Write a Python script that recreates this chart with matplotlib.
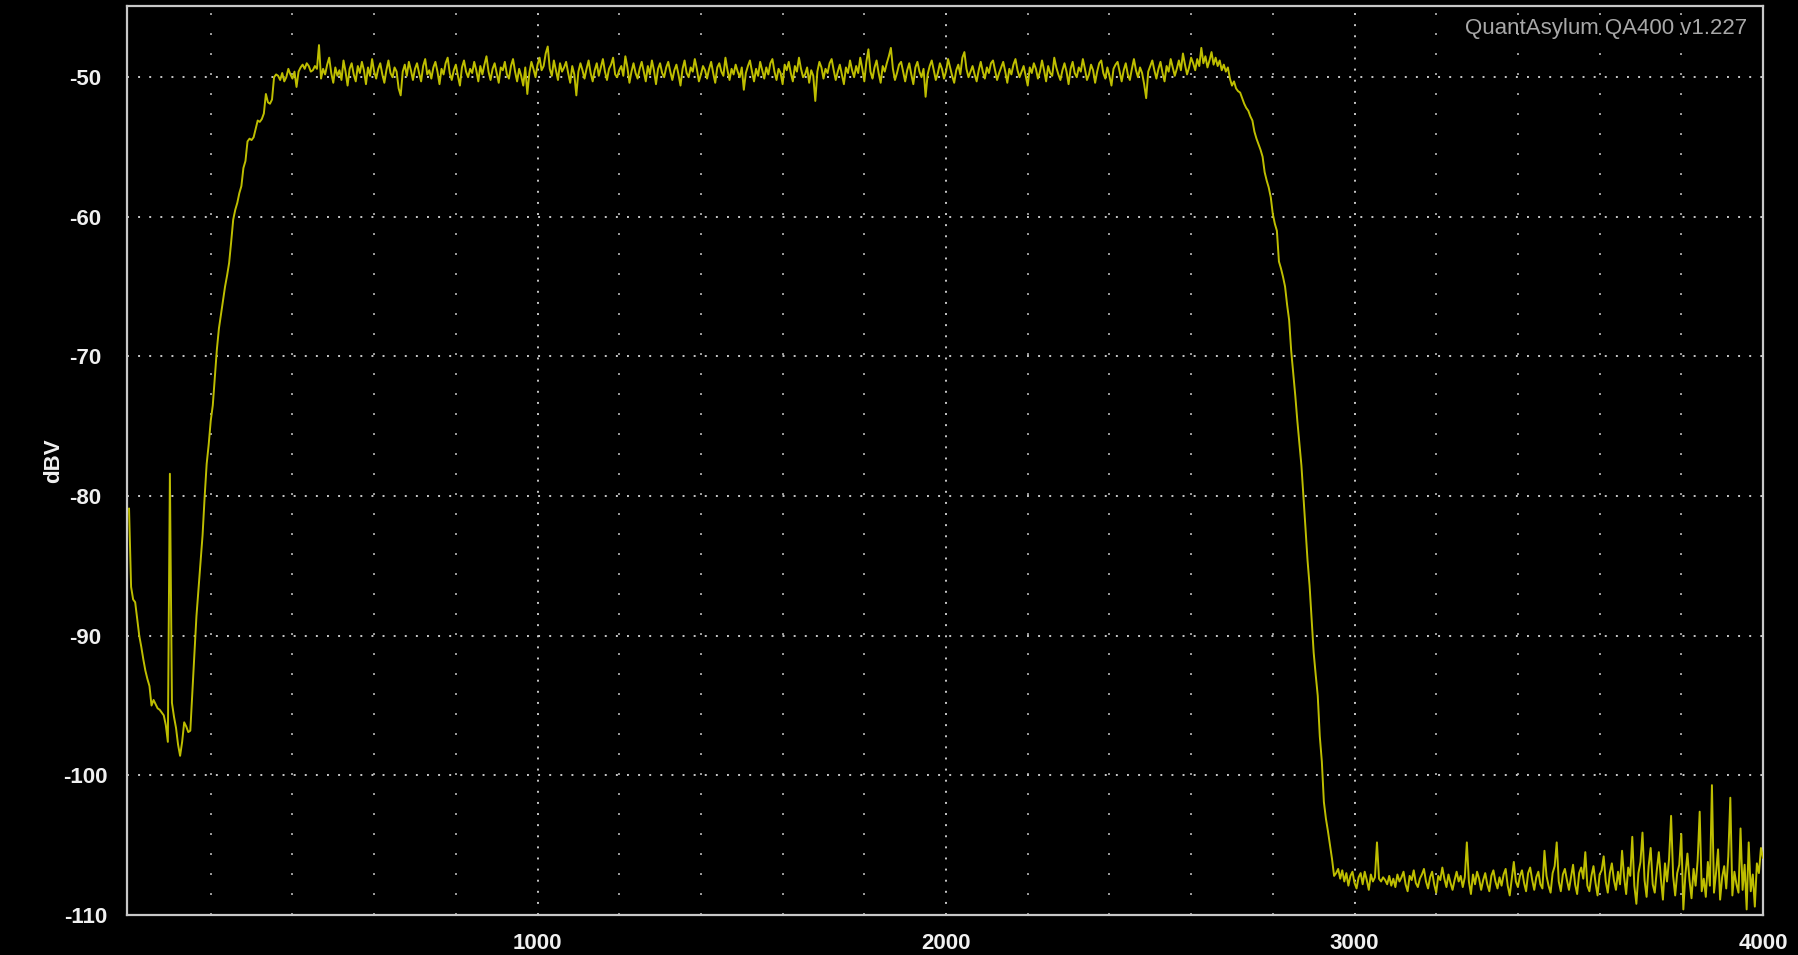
import numpy as np
import matplotlib.pyplot as plt

plt.rcParams['font.family'] = ['Liberation Sans', 'DejaVu Sans']
plt.rcParams['lines.scale_dashes'] = False
plt.rcParams['axes.unicode_minus'] = False

# analyser bins, 5 Hz apart, 0..4000 Hz
freq_step = 5
freq = np.arange(0, 4000 + freq_step, freq_step)

# dBV, segment by segment
low_end = [  # 0 - 200 Hz
    -80.9, -86.5, -87.4, -87.6, -88.8, -90.0, -90.8, -91.7, -92.5, -93.1,
    -93.6, -95.0, -94.6, -94.9, -95.2, -95.3, -95.5, -95.7, -96.4, -97.6,
    -78.4, -94.8, -95.8, -96.6, -97.8, -98.6, -97.6, -96.2, -96.5, -96.9,
    -96.8, -94.0, -91.3, -88.6, -86.7, -84.9, -82.8, -80.1, -77.7, -76.3,
    -74.6]
rise = [  # 205 - 360 Hz
    -73.5, -71.5, -69.5, -68.0, -67.0, -66.0, -65.0, -64.2, -63.3, -61.8,
    -60.2, -59.5, -59.0, -58.3, -57.8, -56.5, -56.0, -54.6, -54.4, -54.5,
    -54.3, -53.7, -53.1, -53.2, -53.0, -52.6, -51.2, -51.8, -51.9, -51.6,
    -50.0, -49.8]
pass_band = [  # 365 - 2695 Hz
    -49.9, -50.2, -49.7, -50.3, -50.0, -49.4, -49.8, -50.1, -49.6, -50.7,
    -49.6, -49.3, -49.1, -49.4, -49.0, -49.2, -49.6, -49.5, -49.2, -49.4,
    -47.7, -50.1, -49.4, -49.8, -49.1, -48.6, -49.7, -50.4, -49.3, -49.9,
    -49.5, -50.2, -48.8, -49.6, -50.6, -49.4, -49.0, -49.8, -50.3, -49.2,
    -49.7, -48.9, -49.5, -50.5, -49.3, -49.9, -48.7, -49.6, -50.1, -49.4,
    -49.0, -49.8, -50.4, -49.5, -48.8, -49.7, -50.0, -49.3, -49.6, -50.8,
    -51.3, -49.6, -49.1, -49.9, -48.9, -49.5, -50.2, -49.4, -49.0, -49.7,
    -50.3, -49.2, -48.7, -49.8, -49.5, -50.1, -49.3, -48.9, -49.6, -50.5,
    -49.4, -49.8, -49.0, -48.6, -49.7, -50.2, -49.5, -49.1, -49.9, -50.6,
    -49.3, -48.8, -49.6, -50.0, -49.4, -49.7, -48.9, -49.5, -50.3, -49.2,
    -49.8, -49.1, -48.5, -49.6, -50.2, -49.4, -49.0, -49.7, -50.4, -49.3,
    -49.5, -48.9, -49.8, -50.1, -49.2, -48.7, -49.6, -50.3, -49.4, -49.9,
    -50.6, -49.3, -51.2, -49.7, -48.9, -49.4, -50.0, -49.1, -48.6, -49.5,
    -49.2, -48.3, -47.8, -49.4, -49.9, -48.8, -49.5, -50.2, -49.0, -49.6,
    -49.3, -48.9, -49.7, -50.4, -49.2, -49.8, -51.3, -49.6, -49.0, -49.5,
    -50.1, -49.4, -48.8, -49.7, -50.3, -49.5, -49.0, -49.9, -49.3, -48.7,
    -49.6, -50.2, -49.4, -49.1, -48.6, -49.8, -50.0, -49.5, -49.2, -49.9,
    -48.5, -49.3, -50.4, -49.6, -49.0, -49.7, -50.1, -49.4, -48.9, -49.6,
    -50.3, -49.2, -49.8, -48.8, -49.5, -50.5, -49.4, -49.0, -49.7, -50.0,
    -49.3, -48.9, -49.6, -50.2, -49.5, -49.1, -49.8, -50.6, -49.4, -48.8,
    -49.7, -50.0, -49.3, -49.6, -48.7, -49.4, -50.3, -49.8, -49.2, -49.5,
    -50.1, -49.4, -48.9, -49.7, -50.4, -49.3, -49.0, -49.6, -49.9, -48.6,
    -49.5, -50.2, -49.4, -49.8, -49.1, -49.6, -50.0, -49.3, -50.9, -49.7,
    -49.2, -48.8, -49.6, -50.3, -49.4, -49.9, -48.9, -49.5, -50.1, -49.3,
    -49.8, -49.0, -48.7, -49.6, -50.2, -49.4, -49.7, -50.5, -49.1, -49.5,
    -48.9, -49.7, -50.3, -49.2, -49.6, -48.6, -49.4, -50.0, -49.8, -49.3,
    -50.4, -49.5, -49.9, -51.7, -49.6, -48.9, -49.3, -50.1, -49.4, -49.7,
    -49.0, -48.7, -49.5, -50.2, -49.6, -49.1, -49.8, -50.5, -49.3, -49.7,
    -48.8, -49.5, -50.0, -49.2, -49.7, -48.6, -49.4, -50.3, -48.9, -48.0,
    -49.6, -50.1, -49.3, -48.8, -49.7, -50.4, -49.2, -49.6, -49.0, -48.5,
    -47.9, -49.4, -50.2, -49.7, -49.1, -48.9, -49.6, -50.3, -49.5, -49.0,
    -49.8, -50.5, -49.3, -48.9, -49.6, -50.0, -49.4, -51.4, -49.8, -49.2,
    -48.8, -49.5, -50.2, -49.7, -49.0, -49.4, -50.1, -49.6, -48.7, -49.3,
    -49.9, -50.4, -49.5, -49.1, -49.8, -48.6, -48.2, -49.4, -50.0, -49.6,
    -49.2, -49.8, -50.3, -49.5, -48.9, -49.6, -50.1, -49.3, -49.7, -49.0,
    -48.8, -49.5, -50.2, -49.7, -49.3, -48.9, -49.6, -50.4, -49.4, -49.8,
    -49.1, -48.7, -49.5, -50.0, -49.6, -49.2, -49.9, -50.6, -49.3, -49.7,
    -49.0, -49.4, -50.1, -49.6, -48.8, -49.5, -50.3, -49.2, -49.7, -49.9,
    -48.6, -49.3, -49.8, -50.2, -49.5, -49.0, -49.6, -50.5, -49.4, -48.9,
    -49.7, -50.0, -49.3, -49.6, -48.7, -49.4, -50.2, -49.8, -49.1, -49.5,
    -50.4, -49.6, -49.0, -48.8, -49.7, -50.1, -49.3, -49.9, -50.6, -49.4,
    -49.1, -48.9, -49.6, -50.3, -49.5, -49.0, -49.8, -50.2, -49.4, -48.7,
    -49.5, -50.0, -49.3, -49.7, -50.5, -51.5, -49.6, -49.2, -48.8, -49.5,
    -50.1, -49.4, -48.9, -49.7, -50.3, -49.2, -49.6, -48.7, -49.3, -49.9,
    -49.4, -48.8, -49.5, -48.3, -49.1, -49.8, -49.3, -48.6, -49.0, -49.5,
    -48.7, -49.2, -47.9, -49.0, -48.5, -49.3, -48.8, -48.2, -49.1, -48.6,
    -49.2, -48.8, -49.5, -49.1, -49.6, -49.3, -50.1]
roll_off = [  # 2700 - 2960 Hz
    -50.6, -50.3, -50.8, -51.0, -51.1, -51.5, -51.9, -52.2, -52.4, -52.8,
    -53.1, -53.9, -54.4, -54.8, -55.2, -55.7, -56.8, -57.4, -57.9, -58.6,
    -59.8, -60.5, -61.0, -63.2, -63.7, -64.3, -65.0, -66.3, -67.4, -69.6,
    -71.2, -72.8, -74.6, -76.2, -77.8, -80.0, -82.3, -84.6, -86.4, -88.8,
    -91.2, -92.8, -94.3, -97.2, -99.0, -101.9, -103.1, -104.0, -105.0, -106.0,
    -107.2, -107.0, -106.7]
noise_floor = [  # 2965 - 4000 Hz
    -107.4, -106.8, -107.6, -107.0, -107.9, -107.2, -106.9, -107.7, -108.1, -107.3,
    -107.0, -107.8, -106.9, -107.5, -108.2, -107.1, -107.6, -107.3, -104.8, -107.4,
    -107.6, -107.3, -107.5, -107.8, -107.2, -107.9, -107.4, -108.0, -107.1, -107.6,
    -107.3, -106.9, -107.8, -108.3, -107.2, -107.5, -106.8, -107.7, -108.0, -107.4,
    -107.1, -106.7, -107.6, -108.1, -107.3, -106.9, -107.8, -108.4, -107.2, -107.5,
    -106.6, -107.4, -108.0, -107.1, -107.7, -108.2, -107.5, -106.9, -107.6, -107.2,
    -108.0, -107.3, -104.8, -107.6, -108.5, -107.1, -107.8, -106.9, -107.4, -108.2,
    -107.5, -107.0, -107.8, -108.3, -107.2, -106.8, -107.6, -108.1, -107.3, -107.9,
    -107.1, -106.7, -107.9, -108.6, -107.4, -106.2, -107.6, -108.0, -107.2, -106.8,
    -107.7, -108.3, -107.0, -106.6, -107.5, -108.2, -107.3, -106.9, -107.8, -108.1,
    -105.4, -107.2, -107.9, -108.4, -107.0, -106.5, -104.8, -107.6, -108.3, -107.1,
    -106.7, -107.5, -108.2, -107.3, -106.4, -107.8, -108.5, -107.0, -106.6, -107.4,
    -105.5, -107.9, -108.3, -107.2, -106.5, -107.7, -108.6, -107.1, -106.8, -105.8,
    -107.6, -108.4, -107.0, -106.3, -107.5, -108.2, -106.9, -107.8, -105.4, -107.3,
    -108.5, -106.6, -107.2, -104.4, -107.9, -109.2, -107.0, -106.2, -104.1, -107.5,
    -108.7, -106.5, -105.2, -107.8, -108.4, -106.8, -105.5, -107.4, -108.9, -106.3,
    -107.6, -106.0, -102.9, -107.2, -108.6, -107.0, -106.4, -104.2, -109.6, -107.1,
    -105.6, -107.5, -108.8, -106.7, -107.9, -106.1, -102.6, -108.3, -107.4, -108.7,
    -106.2, -107.9, -100.7, -108.4, -107.0, -105.3, -108.9, -107.3, -106.5, -108.1,
    -105.8, -101.6, -108.6, -106.9, -107.8, -108.4, -103.8, -108.2, -106.4, -109.6,
    -104.8, -108.3, -107.1, -109.4, -106.3, -107.0, -105.2, -105.9]

level = np.concatenate([low_end, rise, pass_band, roll_off, noise_floor])

x_labels = [1000, 2000, 3000, 4000]
y_ticks = [-50, -60, -70, -80, -90, -100, -110]

fig = plt.figure(figsize=(17.98, 9.55), dpi=100, facecolor='black')
ax = fig.add_axes([127 / 1798, 1 - 915 / 955, 1636 / 1798, 909 / 955])
ax.set_facecolor('black')

ax.plot(freq, level, color='#bebe00', linewidth=1.4, zorder=3)

ax.set_xlim(-5, 4000)
ax.set_ylim(-110, -44.9)

ax.set_xticks(x_labels)
ax.set_xticks(np.arange(200, 4000, 200), minor=True)
ax.set_yticks(y_ticks)

# dotted scope-style graticule
ax.grid(True, which='major', color='#c8c8c8', linewidth=1.4,
        linestyle=(0, (1.4, 6.6)))
ax.grid(True, which='minor', axis='x', color='#a0a0a0', linewidth=1.4,
        linestyle=(0, (1.4, 13.0)))
ax.set_axisbelow(True)

for s in ax.spines.values():
    s.set_color('#c8c8c8')
    s.set_linewidth(1.6)

ax.tick_params(which='both', length=0)
ax.tick_params(axis='x', pad=13, labelsize=16, labelcolor='#f0f0f0')
ax.tick_params(axis='y', pad=30, labelsize=16, labelcolor='#f0f0f0')
for lab in ax.get_xticklabels() + ax.get_yticklabels():
    lab.set_fontweight('bold')
for lab in ax.get_yticklabels():
    lab.set_horizontalalignment('center')

ax.set_ylabel('dBV', fontsize=16, fontweight='bold', color='#f0f0f0',
              va='center')
ax.yaxis.set_label_coords((54 - 127) / 1636, 0.5)

ax.text(0.99, 0.975, 'QuantAsylum QA400 v1.227', transform=ax.transAxes,
        ha='right', va='center', fontsize=16, color='#a8a8a8')

plt.savefig('out.png', facecolor='black')
